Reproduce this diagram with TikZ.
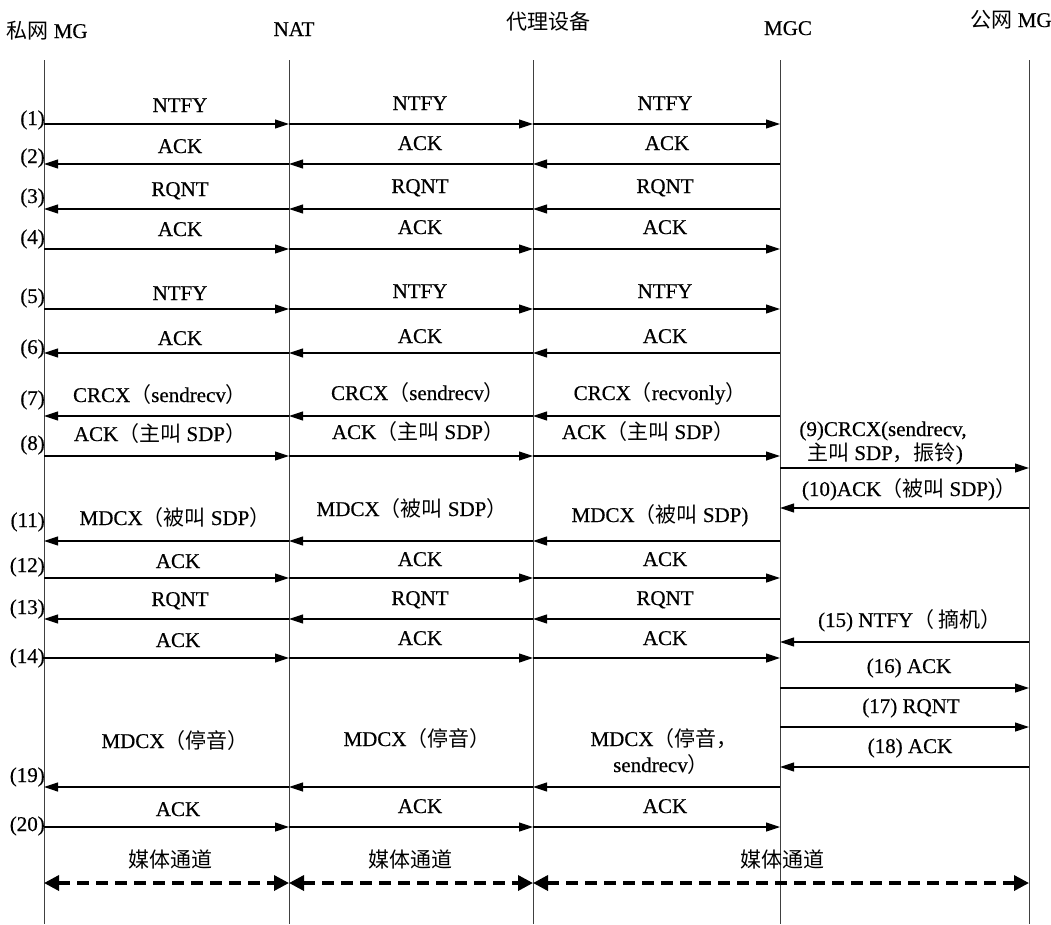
\documentclass[tikz,border=0pt]{standalone}
\usepackage{fontspec}
\setmainfont{Liberation Serif}[FakeBold=0.5]
\newfontfamily\cjk{Noto Sans CJK SC}
\usetikzlibrary{arrows.meta}
\newcommand{\zh}[1]{{\cjk #1}}
\begin{document}
\begin{tikzpicture}[x=1pt,y=-1pt,
  every node/.style={font=\fontsize{21}{24}\selectfont, inner sep=0pt, text height=14pt, text depth=4pt},
  life/.style={line width=0.9pt, black!75},
  msg/.style={line width=1.1pt, -{Triangle[length=14pt,width=9pt]}},
  media/.style={line width=3.4pt, dash pattern=on 12pt off 7pt,
     {Triangle[length=15pt,width=15pt]}-{Triangle[length=15pt,width=15pt]}},
  num/.style={anchor=east},
]
\useasboundingbox (0,0) rectangle (1051,924);

% headers
\node (h1) at (47,33) {\zh{私网} MG};
\node (h2) at (294,31) {NAT};
\node (h3) at (548,24) {\zh{代理设备}};
\node (h4) at (788,30) {MGC};
\node (h5) at (1011,22) {\zh{公网} MG};

% lifelines
\foreach \i/\x in {1/44,2/289,3/533,4/780,5/1029}{
  \coordinate (T\i) at (\x,60);
  \coordinate (B\i) at (\x,924);
  \draw[life] (T\i) -- (B\i);
}

% row coordinates
\foreach \r/\y in {1/124,2/164,3/209,4/249,5/309,6/353,7/416,8/456,9/468,10/508,
                   11/541,12/578,13/619,14/658,15/642,16/688,17/727,18/767,19/787,20/827,m/883}{
  \foreach \i/\x in {1/44,2/289,3/533,4/780,5/1029}{
    \coordinate (L\i-\r) at (\x,\y);
  }
}

% rightward rows (private MG -> MGC)
\foreach \r in {1,4,5,8,12,14,20}{
  \draw[msg] (L1-\r) -- (L2-\r);
  \draw[msg] (L2-\r) -- (L3-\r);
  \draw[msg] (L3-\r) -- (L4-\r);
}
% leftward rows (MGC -> private MG)
\foreach \r in {2,3,6,7,11,13,19}{
  \draw[msg] (L4-\r) -- (L3-\r);
  \draw[msg] (L3-\r) -- (L2-\r);
  \draw[msg] (L2-\r) -- (L1-\r);
}
% MGC <-> public MG
\foreach \r in {9,16,17}{ \draw[msg] (L4-\r) -- (L5-\r); }
\foreach \r in {10,15,18}{ \draw[msg] (L5-\r) -- (L4-\r); }

% media channels
\draw[media] (L1-m) -- (L2-m);
\draw[media] (L2-m) -- (L3-m);
\draw[media] (L3-m) -- (L5-m);

% sequence numbers
\foreach \n/\y in {1/120,2/158,3/198,4/239,5/298,6/349,7/400,8/445,11/522,12/567,13/609,14/658,19/777,20/826}{
  \node[num] (n\n) at (45,\y) {(\n)};
}

% labels
\node (a1) at (180,107) {NTFY};  \node (b1) at (420,105) {NTFY};  \node (c1) at (665,105) {NTFY};
\node (a2) at (180,148) {ACK};   \node (b2) at (420,145) {ACK};   \node (c2) at (667,145) {ACK};
\node (a3) at (180,191) {RQNT};  \node (b3) at (420,188) {RQNT};  \node (c3) at (665,188) {RQNT};
\node (a4) at (180,231) {ACK};   \node (b4) at (420,229) {ACK};   \node (c4) at (665,229) {ACK};
\node (a5) at (180,295) {NTFY};  \node (b5) at (420,293) {NTFY};  \node (c5) at (665,293) {NTFY};
\node (a6) at (180,340) {ACK};   \node (b6) at (420,338) {ACK};   \node (c6) at (665,338) {ACK};
\node (a7) at (160,397) {CRCX\zh{（}sendrecv\zh{）}};
\node (b7) at (418,395) {CRCX\zh{（}sendrecv\zh{）}};
\node (c7) at (660,395) {CRCX\zh{（}recvonly\zh{）}};
\node (a8) at (160,436) {ACK\zh{（主叫} SDP\zh{）}};
\node (b8) at (418,434) {ACK\zh{（主叫} SDP\zh{）}};
\node (c8) at (648,434) {ACK\zh{（主叫} SDP\zh{）}};
\node (d9a) at (883,431) {(9)CRCX(sendrecv,};
\node (d9b) at (885,455) {\zh{主叫} SDP\zh{，振铃}) };
\node (d10) at (909,491) {(10)ACK\zh{（被叫} SDP)\zh{）}};
\node (a11) at (175,520) {MDCX\zh{（被叫} SDP\zh{）}};
\node (b11) at (412,511) {MDCX\zh{（被叫} SDP\zh{）}};
\node (c11) at (660,517) {MDCX\zh{（被叫} SDP)};
\node (a12) at (178,563) {ACK};  \node (b12) at (420,561) {ACK};  \node (c12) at (665,561) {ACK};
\node (a13) at (180,601) {RQNT}; \node (b13) at (420,600) {RQNT}; \node (c13) at (665,600) {RQNT};
\node (a14) at (178,642) {ACK};  \node (b14) at (420,640) {ACK};  \node (c14) at (665,640) {ACK};
\node (d15) at (910,622) {(15) NTFY\zh{（ 摘机）}};
\node (d16) at (909,668) {(16) ACK};
\node (d17) at (911,708) {(17) RQNT};
\node (d18) at (910,748) {(18) ACK};
\node (a19) at (175,743) {MDCX\zh{（停音）}};
\node (b19) at (417,741) {MDCX\zh{（停音）}};
\node (c19a) at (664,741) {MDCX\zh{（停音，}};
\node (c19b) at (661,767) {sendrecv\zh{）}};
\node (a20) at (178,811) {ACK};  \node (b20) at (420,808) {ACK};  \node (c20) at (665,808) {ACK};
\node (ma) at (170,862) {\zh{媒体通道}};
\node (mb) at (410,862) {\zh{媒体通道}};
\node (mc) at (782,862) {\zh{媒体通道}};
\end{tikzpicture}
\end{document}
